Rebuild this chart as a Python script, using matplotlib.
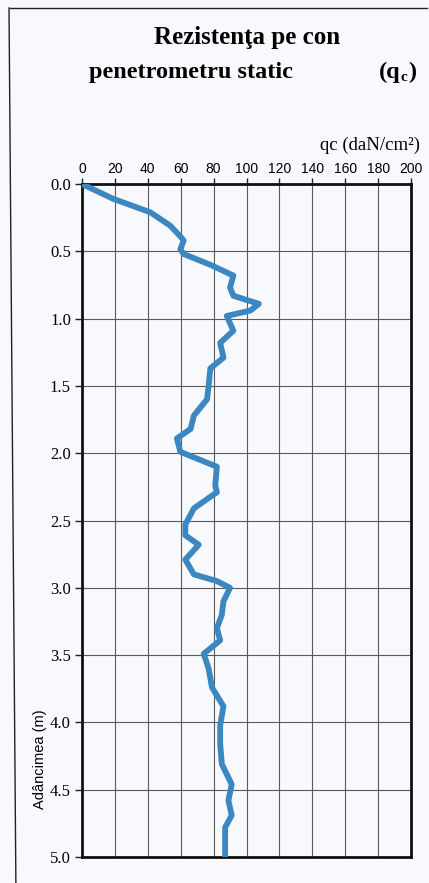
import matplotlib
matplotlib.use('Agg')
import matplotlib.pyplot as plt
from matplotlib.lines import Line2D

# values
depth = [0.00, 0.11, 0.21, 0.31, 0.39, 0.42, 0.485, 0.52, 0.60, 0.68, 0.77, 0.83,
         0.89, 0.94, 0.98, 1.09, 1.18, 1.29, 1.37, 1.50, 1.60, 1.72, 1.82, 1.89,
         1.99, 2.10, 2.24, 2.29, 2.41, 2.53, 2.61, 2.68, 2.79, 2.90, 2.95, 3.00,
         3.10, 3.20, 3.30, 3.39, 3.49, 3.60, 3.74, 3.88, 4.02, 4.16, 4.31, 4.46,
         4.58, 4.69, 4.78, 5.00]
qc = [0, 19, 41.5, 53.7, 59.8, 61.8, 59.8, 61.8, 78, 92, 90, 92,
      107.5, 102.4, 88, 92, 84, 86, 78, 77, 76, 68, 66, 57.7,
      59.8, 82, 81, 82, 68, 62.8, 62.8, 71, 62.8, 68, 82, 90,
      86, 85, 82, 84, 74, 77, 79, 86, 84, 84, 85, 91,
      89, 91, 87, 87]

x_ticks = [0, 20, 40, 60, 80, 100, 120, 140, 160, 180, 200]
y_ticks = [0.0, 0.5, 1.0, 1.5, 2.0, 2.5, 3.0, 3.5, 4.0, 4.5, 5.0]

serif = ['Liberation Serif', 'DejaVu Serif']
sans = ['Liberation Sans', 'DejaVu Sans']

fig = plt.figure(figsize=(4.29, 8.83), dpi=100)
fig.patch.set_facecolor('#f7f9fc')
ax = fig.add_axes([0.1911, 0.0294, 0.767, 0.7622])
ax.set_facecolor('#f7f9fc')

ax.plot(qc, depth, color='#3a87c2', lw=4.2, solid_joinstyle='round',
        solid_capstyle='round', zorder=3)

ax.set_xlim(0, 200)
ax.set_ylim(5, 0)
ax.xaxis.tick_top()
ax.set_xticks(x_ticks)
ax.set_yticks(y_ticks)
ax.set_xticklabels([str(t) for t in x_ticks], family=sans, fontsize=10)
ax.set_yticklabels(['%.1f' % t for t in y_ticks], family=serif, fontsize=12)
ax.tick_params(axis='x', direction='out', length=4, width=1, pad=2, color='#222')
ax.tick_params(axis='y', direction='out', length=5, width=1, pad=3, color='#222')
ax.grid(True, color='#5a5a5a', lw=0.8)
for s in ax.spines.values():
    s.set_color('#111')
    s.set_linewidth(2)

fig.text(0.575, 0.957, 'Rezistenţa pe con', family=serif, fontweight='bold',
         fontsize=18, ha='center', va='center')
fig.text(0.207, 0.918, 'penetrometru static', family=serif, fontweight='bold',
         fontsize=17.5, ha='left', va='center')
fig.text(0.882, 0.918, '(q', family=serif, fontweight='bold',
         fontsize=17.5, ha='left', va='center')
fig.text(0.934, 0.912, 'c', family=serif, fontweight='bold',
         fontsize=11, ha='left', va='center')
fig.text(0.952, 0.918, ')', family=serif, fontweight='bold',
         fontsize=17.5, ha='left', va='center')
fig.text(0.978, 0.835, 'qc (daN/cm²)', family=serif, fontsize=13.5,
         ha='right', va='center')
fig.text(0.093, 0.14, 'Adâncimea (m)', family=sans, fontsize=10.5,
         rotation=90, ha='center', va='center')

# scanned page frame
fig.add_artist(Line2D([0.023, 0.995], [0.991, 0.991], transform=fig.transFigure,
                      color='#222', lw=1))
fig.add_artist(Line2D([0.021, 0.037], [0.991, 0.0], transform=fig.transFigure,
                      color='#222', lw=1))

fig.savefig('out.png', dpi=100, facecolor=fig.get_facecolor())
